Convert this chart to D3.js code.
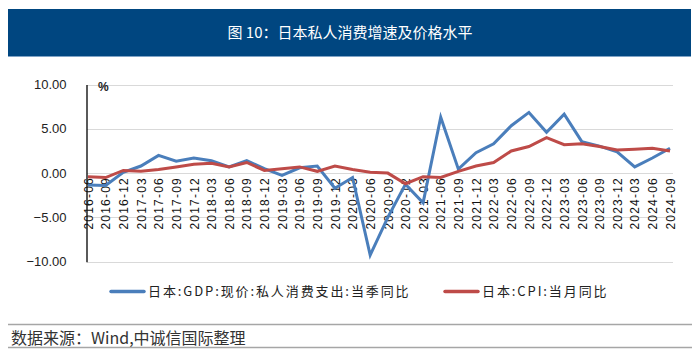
<!DOCTYPE html>
<html>
<head>
<meta charset="utf-8">
<script src="https://cdn.jsdelivr.net/npm/d3@7"></script>
<style>
  body { margin: 0; background: #fff; }
  svg { display: block; }
</style>
</head>
<body>
<div id="vis"></div>
<script>
// quarters, 2016-06 .. 2024-09
var quarters = ["2016-06","2016-09","2016-12","2017-03","2017-06","2017-09","2017-12",
    "2018-03","2018-06","2018-09","2018-12","2019-03","2019-06","2019-09","2019-12",
    "2020-03","2020-06","2020-09","2020-12","2021-03","2021-06","2021-09","2021-12",
    "2022-03","2022-06","2022-09","2022-12","2023-03","2023-06","2023-09","2023-12",
    "2024-03","2024-06","2024-09"];

// 日本:GDP:现价:私人消费支出:当季同比
var gdpConsumption = [-1.35, -1.4, 0.1, 0.8, 2.0, 1.35, 1.7, 1.4, 0.7, 1.4, 0.5, -0.25,
    0.6, 0.8, -1.7, -0.5, -9.25, -5.0, -1.25, -3.35, 6.3, 0.45, 2.3, 3.3, 5.35, 6.85,
    4.6, 6.65, 3.55, 3.05, 2.4, 0.7, 1.7, 2.8];

// 日本:CPI:当月同比
var cpi = [-0.4, -0.5, 0.3, 0.2, 0.4, 0.7, 1.0, 1.1, 0.7, 1.2, 0.3, 0.5, 0.7, 0.2, 0.8,
    0.4, 0.1, 0.0, -1.2, -0.4, -0.5, 0.2, 0.8, 1.2, 2.5, 3.0, 4.0, 3.2, 3.3, 3.0, 2.6,
    2.7, 2.8, 2.5];

var yTicks = [-10, -5, 0, 5, 10];

var seriesNames = ["日本:GDP:现价:私人消费支出:当季同比", "日本:CPI:当月同比"];
var seriesColors = ["#4a7ebb", "#be4b48"];

var width = 700, height = 362;
var cjk = "'Noto Sans CJK SC', sans-serif";

var svg = d3.select("#vis").append("svg")
    .attr("width", width)
    .attr("height", height);

// title bar
svg.append("rect")
    .attr("x", 8).attr("y", 9).attr("width", 683).attr("height", 47)
    .attr("fill", "#004680");
svg.append("line")
    .attr("x1", 8).attr("x2", 691).attr("y1", 56.5).attr("y2", 56.5)
    .attr("stroke", "#7fa3c6").attr("stroke-width", 1);
svg.append("text")
    .attr("x", 350).attr("y", 38)
    .attr("text-anchor", "middle")
    .attr("fill", "#fff")
    .style("font-family", cjk)
    .style("font-size", "15px")
    .text("图 10：日本私人消费增速及价格水平");

var x = d3.scalePoint()
    .domain(quarters)
    .range([88, 670]);

var y = d3.scaleLinear()
    .domain([-10, 10])
    .range([261.7, 84.5]);

// gridlines
svg.append("g")
    .selectAll("line")
    .data(yTicks)
    .enter().append("line")
    .attr("x1", 87).attr("x2", 673)
    .attr("y1", function (d) { return Math.round(y(d)) + 0.5; })
    .attr("y2", function (d) { return Math.round(y(d)) + 0.5; })
    .attr("stroke", "#d9d9d9")
    .attr("stroke-width", 1.2);

// y axis
var yAxis = d3.axisLeft(y)
    .tickValues(yTicks)
    .tickSize(0)
    .tickPadding(20)
    .tickFormat(d3.format(".2f"));

var gy = svg.append("g")
    .attr("transform", "translate(86.5,0)")
    .call(yAxis);
gy.select(".domain").attr("stroke", "#000").attr("stroke-width", 1.3);
gy.selectAll("text")
    .attr("fill", "#222")
    .style("font-family", "'Liberation Sans', Arial, sans-serif")
    .style("font-size", "13px");

svg.append("text")
    .attr("x", 98).attr("y", 91)
    .attr("fill", "#222")
    .style("font-family", "'Liberation Sans', Arial, sans-serif")
    .style("font-size", "12px")
    .style("font-weight", "bold")
    .text("%");

// x labels at the zero line
var xAxis = d3.axisBottom(x).tickSize(0).tickPadding(0);
var gx = svg.append("g")
    .attr("transform", "translate(0," + y(0) + ")")
    .call(xAxis);
gx.select(".domain").remove();
gx.selectAll("text")
    .attr("transform", "rotate(-90)")
    .attr("text-anchor", "end")
    .attr("x", -4)
    .attr("y", 0)
    .attr("dy", "0.35em")
    .attr("fill", "#111")
    .style("font-family", "'Liberation Sans', Arial, sans-serif")
    .style("font-size", "12px")
    .style("letter-spacing", "1.2px");

// lines
var line = d3.line()
    .x(function (d, i) { return x(quarters[i]); })
    .y(function (d) { return y(d); });

[gdpConsumption, cpi].forEach(function (s, i) {
    svg.append("path")
        .datum(s)
        .attr("fill", "none")
        .attr("stroke", seriesColors[i])
        .attr("stroke-width", 3)
        .attr("stroke-linejoin", "miter")
        .attr("d", line);
});

// legend
var legendX = [111, 445];
seriesNames.forEach(function (name, i) {
    svg.append("line")
        .attr("x1", legendX[i]).attr("x2", legendX[i] + 33)
        .attr("y1", 291.5).attr("y2", 291.5)
        .attr("stroke", seriesColors[i])
        .attr("stroke-width", 3.5)
        .attr("stroke-linecap", "round");
    svg.append("text")
        .attr("x", legendX[i] + 37).attr("y", 296)
        .attr("fill", "#222")
        .style("font-family", cjk)
        .style("font-size", "13px")
        .style("letter-spacing", "1.9px")
        .text(name);
});

// source footer
svg.append("line")
    .attr("x1", 8).attr("x2", 692).attr("y1", 324.5).attr("y2", 324.5)
    .attr("stroke", "#a6a6a6").attr("stroke-width", 1.5);
svg.append("line")
    .attr("x1", 8).attr("x2", 692).attr("y1", 347.5).attr("y2", 347.5)
    .attr("stroke", "#a6a6a6").attr("stroke-width", 1.5);
svg.append("text")
    .attr("x", 11).attr("y", 344)
    .attr("fill", "#333")
    .style("font-family", cjk)
    .style("font-size", "16px")
    .text("数据来源：Wind,中诚信国际整理");
</script>
</body>
</html>
